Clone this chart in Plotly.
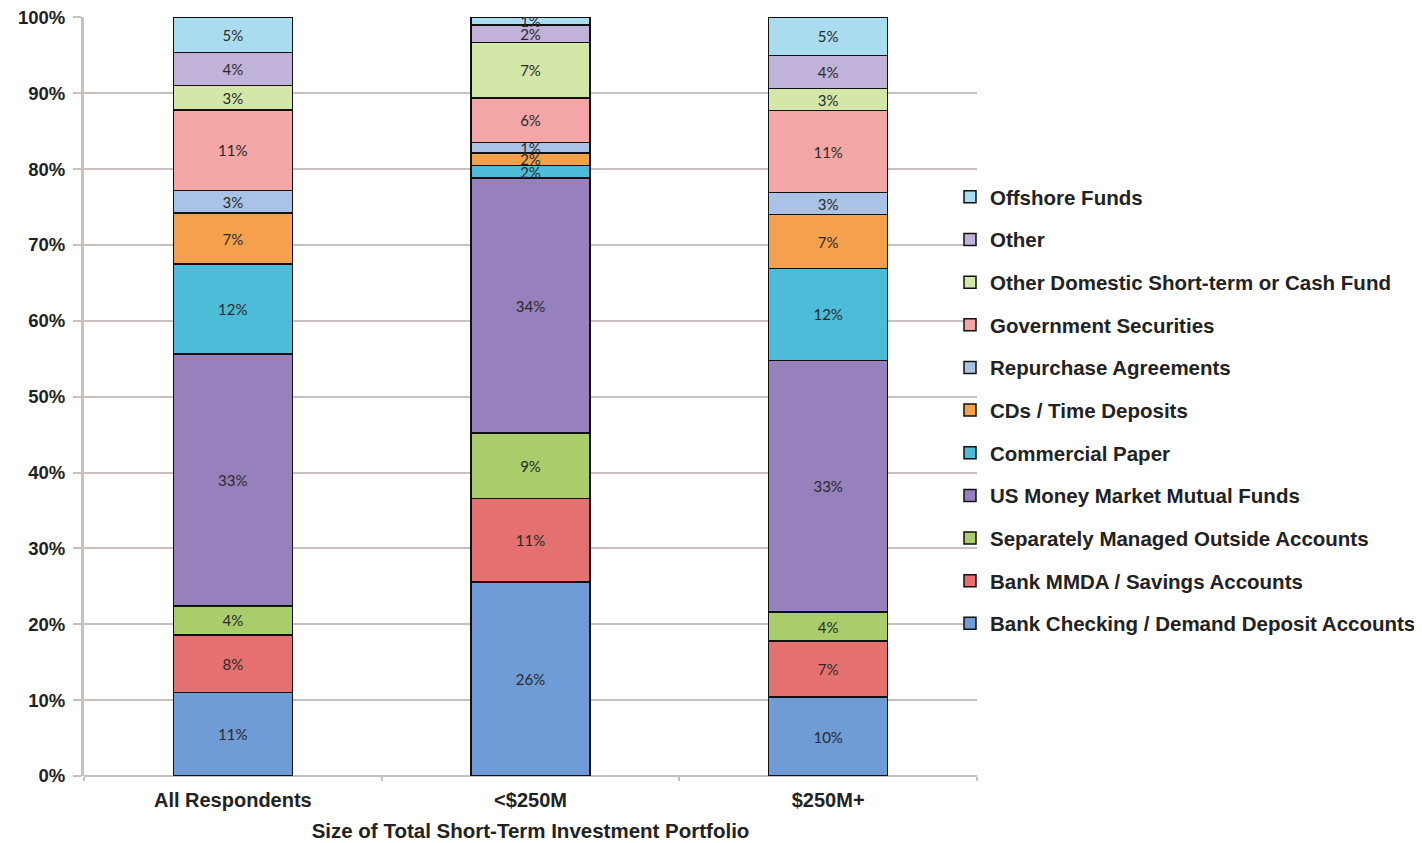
import plotly.graph_objects as go

categories = ["All Respondents", "<$250M", "$250M+"]

series_names = [
    "Bank Checking / Demand Deposit Accounts",
    "Bank MMDA / Savings Accounts",
    "Separately Managed Outside Accounts",
    "US Money Market Mutual Funds",
    "Commercial Paper",
    "CDs / Time Deposits",
    "Repurchase Agreements",
    "Government Securities",
    "Other Domestic Short-term or Cash Fund",
    "Other",
    "Offshore Funds",
]

bank_checking = [11.0, 25.6, 10.4]
bank_mmda = [7.6, 11.0, 7.4]
separately_managed = [3.8, 8.6, 3.8]
us_mmf = [33.2, 33.6, 33.2]
commercial_paper = [11.9, 1.7, 12.1]
cds_time = [6.7, 1.6, 7.1]
repurchase = [3.0, 1.4, 2.9]
government = [10.6, 5.9, 10.8]
other_domestic = [3.2, 7.3, 2.9]
other = [4.4, 2.3, 4.4]
offshore = [4.6, 1.0, 5.0]

series_values = [bank_checking, bank_mmda, separately_managed, us_mmf,
                 commercial_paper, cds_time, repurchase, government,
                 other_domestic, other, offshore]

colors = ["#6f9bd6", "#e4716f", "#a8cd6a", "#9781bd", "#4cbcd9", "#f5a04c",
          "#a9c2e6", "#f4a5a5", "#d3e7a8", "#c1b2d9", "#a9dcee"]

y_ticks = [0, 10, 20, 30, 40, 50, 60, 70, 80, 90, 100]

n = len(series_names)
fig = go.Figure()
for i, (name, vals, col) in enumerate(zip(series_names, series_values, colors)):
    fig.add_trace(go.Bar(
        x=categories, y=vals, name=name,
        marker=dict(color=col, line=dict(color="#111111", width=1.5)),
        texttemplate="%{y:.0f}%", textposition="inside", textangle=0,
        insidetextanchor="middle",
        textfont=dict(family="Lato, Carlito, sans-serif", size=15, color="#2a2a2a"),
        legendgroup=f"g{i}",
        legendrank=n - i,
    ))

# page body has an 8px margin; compensate so screen positions match
dx, dy = 7, 8
plot_left, plot_right, plot_top, plot_bottom = 83 - dx, 976 - dx, 17 - dy, 776 - dy
legend_left, legend_top = 942, 177 - dy
W, H = 1422, 843

grid_col = "#c9c0bd"
fig.update_layout(
    barmode="stack",
    bargap=0.6,
    width=W, height=H,
    margin=dict(l=plot_left, r=W - plot_right, t=plot_top, b=H - plot_bottom),
    paper_bgcolor="white", plot_bgcolor="white",
    font=dict(family="Liberation Sans, Arial, sans-serif", color="#222222"),
    uniformtext=dict(mode="show", minsize=15),
    showlegend=True,
    legend=dict(
        traceorder="grouped",
        tracegroupgap=13,
        x=(legend_left - plot_left) / (plot_right - plot_left), xanchor="left",
        y=(plot_bottom - legend_top) / (plot_bottom - plot_top), yanchor="top",
        maxheight=700,
        font=dict(family="Liberation Sans, Arial, sans-serif", size=20.5,
                  color="#222222", weight="bold"),
        bgcolor="rgba(0,0,0,0)",
    ),
    xaxis=dict(
        range=[-0.5, 2.5], automargin=False,
        tickson="boundaries", ticks="outside", ticklen=4, tickcolor=grid_col,
        tickwidth=2, ticklabelstandoff=10,
        showline=False, showgrid=False,
        tickfont=dict(size=20, weight="bold", color="#222222"),
        title=dict(text="Size of Total Short-Term Investment Portfolio",
                   font=dict(size=20.5, weight="bold", color="#222222"), standoff=13),
    ),
    yaxis=dict(
        range=[0, 100.05], automargin=False,
        tickvals=y_ticks,
        ticktext=[f"{v}%" for v in y_ticks],
        ticks="outside", ticklen=8, tickcolor=grid_col, tickwidth=2,
        ticklabelstandoff=4, ticklabeloverflow="allow",
        showgrid=True, gridcolor=grid_col, gridwidth=2,
        zeroline=True, zerolinecolor=grid_col, zerolinewidth=2,
        showline=True, linecolor=grid_col, linewidth=3,
        tickfont=dict(size=18.5, weight="bold", color="#222222"),
    ),
)

fig.write_html("out.html")
